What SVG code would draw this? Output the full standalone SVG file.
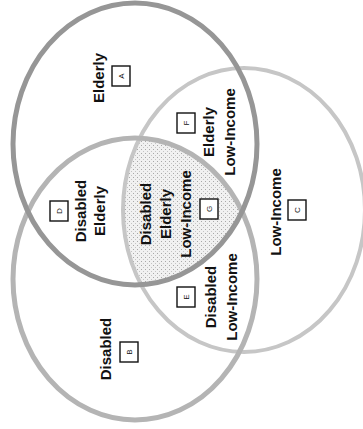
<svg xmlns="http://www.w3.org/2000/svg" width="363" height="429" viewBox="0 0 363 429">
<style>
.lbl{font-family:"Liberation Sans",Arial,sans-serif;font-weight:bold;font-size:15px;fill:#111;text-anchor:middle}
.key{font-family:"Liberation Sans",Arial,sans-serif;font-size:8px;fill:#111;text-anchor:middle}
.box{fill:#fff;stroke:#111;stroke-width:1.4}
.ring{fill:none}
</style>
<defs>
<clipPath id="clipA"><ellipse cx="135" cy="144" rx="122" ry="141"/></clipPath>
<clipPath id="clipB"><ellipse cx="135" cy="279" rx="122" ry="141"/></clipPath>
<pattern id="dots" width="4" height="4" patternUnits="userSpaceOnUse">
<rect width="4" height="4" fill="#f1f1f1"/>
<rect x="1" y="1" width="1" height="1" fill="#a8a8a8"/>
<rect x="3" y="3" width="1" height="1" fill="#c4c4c4"/>
</pattern>
</defs>
<rect width="363" height="429" fill="#fff"/>
<g id="center-fill" clip-path="url(#clipA)">
<g clip-path="url(#clipB)">
<ellipse cx="244" cy="210" rx="121" ry="142" fill="url(#dots)"/>
</g>
</g>
<g id="connectors">
<ellipse id="circle-lowincome" class="ring" cx="244" cy="210" rx="121" ry="142" stroke="#c6c6c6" stroke-width="4"/>
<ellipse id="circle-disabled" class="ring" cx="135" cy="279" rx="122" ry="141" stroke="#b4b4b4" stroke-width="5"/>
<ellipse id="circle-elderly" class="ring" cx="135" cy="144" rx="122" ry="141" stroke="#969696" stroke-width="5"/>
</g>
<g id="node-A">
<g transform="translate(104,78) rotate(-90)"><text class="lbl" x="0" y="0">Elderly</text></g>
<rect class="box" x="112" y="66" width="18" height="20"/>
<g transform="translate(121,76) rotate(-90)"><text class="key" x="0" y="3">A</text></g>
</g>
<g id="node-F">
<g transform="translate(214,132) rotate(-90)"><text class="lbl" x="0" y="0">Elderly</text><text class="lbl" x="0" y="21">Low-Income</text></g>
<rect class="box" x="177" y="113" width="18" height="20"/>
<g transform="translate(186,123) rotate(-90)"><text class="key" x="0" y="3">F</text></g>
</g>
<g id="node-D">
<g transform="translate(86,211) rotate(-90)"><text class="lbl" x="0" y="0">Disabled</text><text class="lbl" x="0" y="19">Elderly</text></g>
<rect class="box" x="50" y="201" width="18" height="20"/>
<g transform="translate(59,211) rotate(-90)"><text class="key" x="0" y="3">D</text></g>
</g>
<g id="node-G">
<g transform="translate(151,214) rotate(-90)"><text class="lbl" x="0" y="0">Disabled</text><text class="lbl" x="0" y="20">Elderly</text><text class="lbl" x="0" y="40">Low-Income</text></g>
<rect class="box" x="200" y="199" width="18" height="20"/>
<g transform="translate(209,209) rotate(-90)"><text class="key" x="0" y="3">G</text></g>
</g>
<g id="node-C">
<g transform="translate(281,212) rotate(-90)"><text class="lbl" x="0" y="0">Low-Income</text></g>
<rect class="box" x="288" y="200" width="18" height="20"/>
<g transform="translate(297,210) rotate(-90)"><text class="key" x="0" y="3">C</text></g>
</g>
<g id="node-E">
<g transform="translate(216,297) rotate(-90)"><text class="lbl" x="0" y="0">Disabled</text><text class="lbl" x="0" y="21">Low-Income</text></g>
<rect class="box" x="177" y="287" width="18" height="20"/>
<g transform="translate(186,297) rotate(-90)"><text class="key" x="0" y="3">E</text></g>
</g>
<g id="node-B">
<g transform="translate(111,349) rotate(-90)"><text class="lbl" x="0" y="0">Disabled</text></g>
<rect class="box" x="120" y="342" width="18" height="20"/>
<g transform="translate(129,352) rotate(-90)"><text class="key" x="0" y="3">B</text></g>
</g>
</svg>
